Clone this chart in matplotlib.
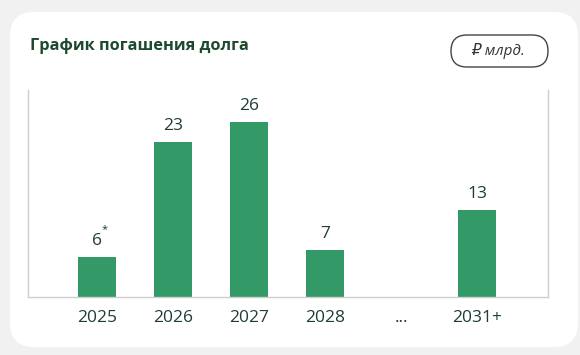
import matplotlib.pyplot as plt
from matplotlib.patches import FancyBboxPatch

# data
years = ['2025', '2026', '2027', '2028', '...', '2031+']
values = [6, 23, 26, 7, None, 13]
labels = ['6', '23', '26', '7', '', '13']

green = '#339966'
text_col = '#1f3b3a'
plt.rcParams['font.family'] = ['Open Sans', 'DejaVu Sans']

fig = plt.figure(figsize=(5.8, 3.55), dpi=100)
fig.patch.set_facecolor('#f1f1f1')

# background card, drawn in pixel coordinates
bg = fig.add_axes([0, 0, 1, 1])
bg.set_xlim(0, 580)
bg.set_ylim(355, 0)
bg.axis('off')
bg.add_patch(FancyBboxPatch((10, 12), 568, 335, boxstyle='round,pad=0,rounding_size=24',
                            facecolor='white', edgecolor='none'))
bg.text(30, 46, 'График погашения долга', fontsize=11.8, fontweight='bold',
        color='#1d4a2f', va='center', ha='left')
bg.add_patch(FancyBboxPatch((451, 35), 97, 32, boxstyle='round,pad=0,rounding_size=16',
                            facecolor='white', edgecolor='#444444', linewidth=1))
bg.text(498, 51, '₽ млрд.', fontsize=11, fontstyle='italic', color='#333333',
        va='center', ha='center', family=['Open Sans', 'DejaVu Sans'])

# chart
ax = fig.add_axes([28 / 580, 1 - 297 / 355, 520 / 580, 207 / 355])
ax.patch.set_alpha(0)
xs = list(range(len(years)))
for x, v, lab in zip(xs, values, labels):
    if v is None:
        continue
    ax.bar(x, v, width=0.5, color=green, zorder=2)
    ax.text(x, v + 1.2, lab, ha='center', va='bottom', fontsize=12.5, color=text_col)
ax.annotate('*', xy=(0, values[0] + 1.2), xytext=(5.5, 10), textcoords='offset points',
            fontsize=8, color=text_col, ha='center', va='bottom')

ax.set_xlim(-0.91, 5.93)
ax.set_ylim(0, 30.8)
ax.set_xticks(xs)
ax.set_xticklabels(years, fontsize=12.5, color=text_col)
ax.tick_params(axis='x', length=0, pad=9)
ax.set_yticks([])
for s in ['top']:
    ax.spines[s].set_visible(False)
for s in ['left', 'right', 'bottom']:
    ax.spines[s].set_color('#cfcfcf')
    ax.spines[s].set_linewidth(1)

fig.savefig('out.png', dpi=100, facecolor=fig.get_facecolor())
